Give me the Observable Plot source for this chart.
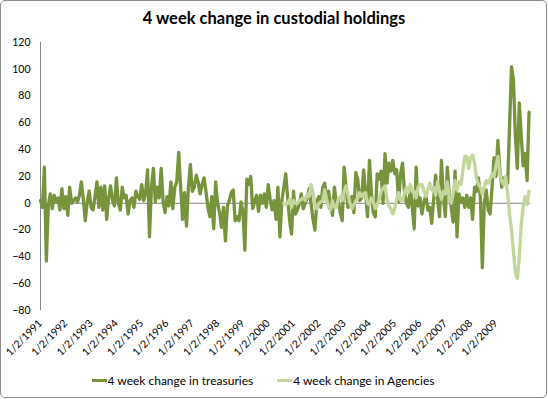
<!DOCTYPE html>
<html>
<head>
<meta charset="utf-8">
<script src="https://cdn.jsdelivr.net/npm/d3@7"></script>
<script src="https://cdn.jsdelivr.net/npm/@observablehq/plot@0.6"></script>
<style>
html, body { margin: 0; padding: 0; background: #fff; }
#wrap { position: relative; width: 548px; height: 399px; overflow: hidden; font-family: Lato, "Open Sans", sans-serif; color: #000; }
#frame { position: absolute; left: 0; top: 0; width: 545px; height: 396px; border: 1px solid #8c8c8c; border-radius: 5px; pointer-events: none; }
#chart { position: absolute; left: 0; top: 0; }
#title { position: absolute; left: 0; width: 548px; top: 8px; text-align: center; font-weight: bold; font-size: 16.5px; }
#legend { position: absolute; left: 0; width: 526px; top: 373px; display: flex; justify-content: center; gap: 24px; font-size: 12px; }
.item { display: flex; align-items: center; }
.sw { display: inline-block; width: 15px; height: 3px; margin-right: 1px; }
</style>
</head>
<body>
<div id="wrap">
  <div id="chart"></div>
  <div id="title">4 week change in custodial holdings</div>
  <div id="legend"></div>
  <div id="frame"></div>
</div>
<script>
// Series names and colours
const seriesNames = ["4 week change in treasuries", "4 week change in Agencies"];
const seriesColors = ["#77933C", "#C3D69B"];

// X tick labels (one per 52 weeks from the first observation)
const tickLabels = ["1/2/1991","1/2/1992","1/2/1993","1/2/1994","1/2/1995","1/2/1996","1/2/1997","1/2/1998","1/2/1999","1/2/2000","1/2/2001","1/2/2002","1/2/2003","1/2/2004","1/2/2005","1/2/2006","1/2/2007","1/2/2008","1/2/2009"];
const yTicks = [-80, -60, -40, -20, 0, 20, 40, 60, 80, 100, 120];

const treasuries = [
  2, -3, 27, -43, -2, 7, -4, 6, 1, 4,
  -5, 11, -4, 5, -9, 12, 0, 2, 4, 1,
  6, 16, 3, -13, 1, 9, -3, -5, 5, 16,
  -3, 12, -5, 13, -12, 4, 13, 2, -2, 19,
  0, -5, 12, 4, 6, -8, 2, 4, -3, 9,
  5, 3, 14, 2, 8, 25, -25, 12, 26, 1,
  12, 4, 26, 1, -7, 5, -2, 16, -4, 12,
  16, 38, 12, -12, 8, -17, 12, 29, 9, 12,
  21, 16, 7, 14, 19, 9, -3, -10, 5, -19,
  16, 0, -7, -18, -3, -28, -2, 2, 8, 10,
  -13, -10, -13, 1, -6, -35, 18, 14, 20, -4,
  1, 6, -6, 6, 0, 7, -3, 14, 3, -5,
  2, -12, 12, -25, 2, 12, 22, 4, -13, -23,
  9, -8, -5, 0, 7, -4, 0, 4, 11, 0,
  -12, -20, 2, 5, -3, 12, 15, 2, 9, 0,
  -9, 12, 0, 2, -7, -13, 27, 12, -3, 3,
  5, -7, 23, 18, 2, 4, 25, 9, -10, 32,
  8, -7, -10, 22, 18, 24, 0, 37, 15, 30,
  24, 32, 22, 25, 1, 22, 30, 9, 0, -3,
  12, -3, -19, 27, -2, 4, -8, 1, 6, -5,
  -3, -15, 3, 21, 3, -10, 32, 4, -10, 27,
  7, -3, -14, 24, -25, 7, 1, 4, -3, 6,
  -3, 4, -12, 12, 9, 19, 5, -48, 0, 10,
  -5, -8, 12, 34, 20, 47, 25, 12, 19, 14,
  15, 58, 102, 92, 49, 26, 75, 50, 28, 37,
  17, 68
];

// Agencies start at the 126th 4-week observation
const agenciesStart = 125;
const agencies = [
  0, -1, 0, 3, -3, 2, 0, 0, 2, 3,
  4, 2, 7, 5, 14, 8, -2, -4, 0, 1,
  2, 10, 3, -3, -5, 2, -3, -3, 3, 5,
  2, 9, 13, 6, 0, -4, -1, 2, 4, 8,
  5, 7, 8, 0, -1, 4, 1, -4, -1, 3,
  9, 11, 13, 3, -2, -4, -8, -4, 3, 8,
  2, 2, 8, 12, 8, 14, 9, 9, 4, 12,
  14, 14, 9, 5, 10, 15, 10, 12, 6, 16,
  9, 3, 9, 7, 16, 4, 0, 7, 17, 10,
  16, 14, 24, 35, 35, 26, 34, 36, 30, 19,
  14, 12, 7, 12, 17, 15, 18, 22, 20, 28,
  35, 22, 16, 14, 20, 7, -8, -20, -36, -52,
  -56, -40, -16, -2, 5, -1, 9
];

const rows = [
  ...treasuries.map((v, i) => ({week: i * 4, value: v, series: seriesNames[0]})),
  ...agencies.map((v, k) => ({week: (agenciesStart + k) * 4, value: v, series: seriesNames[1]}))
];
const tickWeeks = tickLabels.map((_, i) => i * 52);

const chart = Plot.plot({
  width: 548,
  height: 399,
  marginLeft: 40,
  marginRight: 18,
  marginTop: 42,
  marginBottom: 89,
  style: {fontFamily: "Lato, 'Open Sans', sans-serif", fontSize: "10.5px", color: "#000", background: "transparent", overflow: "visible"},
  x: {domain: [0, 1007], ticks: tickWeeks, tickFormat: (d) => tickLabels[Math.round(d / 52)], tickRotate: -45, tickSize: 0, tickPadding: 11, label: null},
  y: {domain: [-80, 120], ticks: yTicks, tickSize: 0, tickPadding: 10, label: null},
  color: {domain: seriesNames, range: seriesColors},
  marks: [
    Plot.ruleY([0], {stroke: "#868686", strokeWidth: 1}),
    Plot.ruleX([0], {stroke: "#868686", strokeWidth: 1}),
    Plot.line(rows.filter(d => d.series === seriesNames[0]), {x: "week", y: "value", stroke: "series", strokeWidth: 3.3, strokeLinejoin: "round"}),
    Plot.line(rows.filter(d => d.series === seriesNames[1]), {x: "week", y: "value", stroke: "series", strokeWidth: 3.3, strokeLinejoin: "round"})
  ]
});
document.getElementById("chart").appendChild(chart);

const legend = document.getElementById("legend");
seriesNames.forEach((name, i) => {
  const item = document.createElement("div");
  item.className = "item";
  const sw = document.createElement("span");
  sw.className = "sw";
  sw.style.background = seriesColors[i];
  const label = document.createElement("span");
  label.textContent = name;
  item.appendChild(sw);
  item.appendChild(label);
  legend.appendChild(item);
});
</script>
</body>
</html>
